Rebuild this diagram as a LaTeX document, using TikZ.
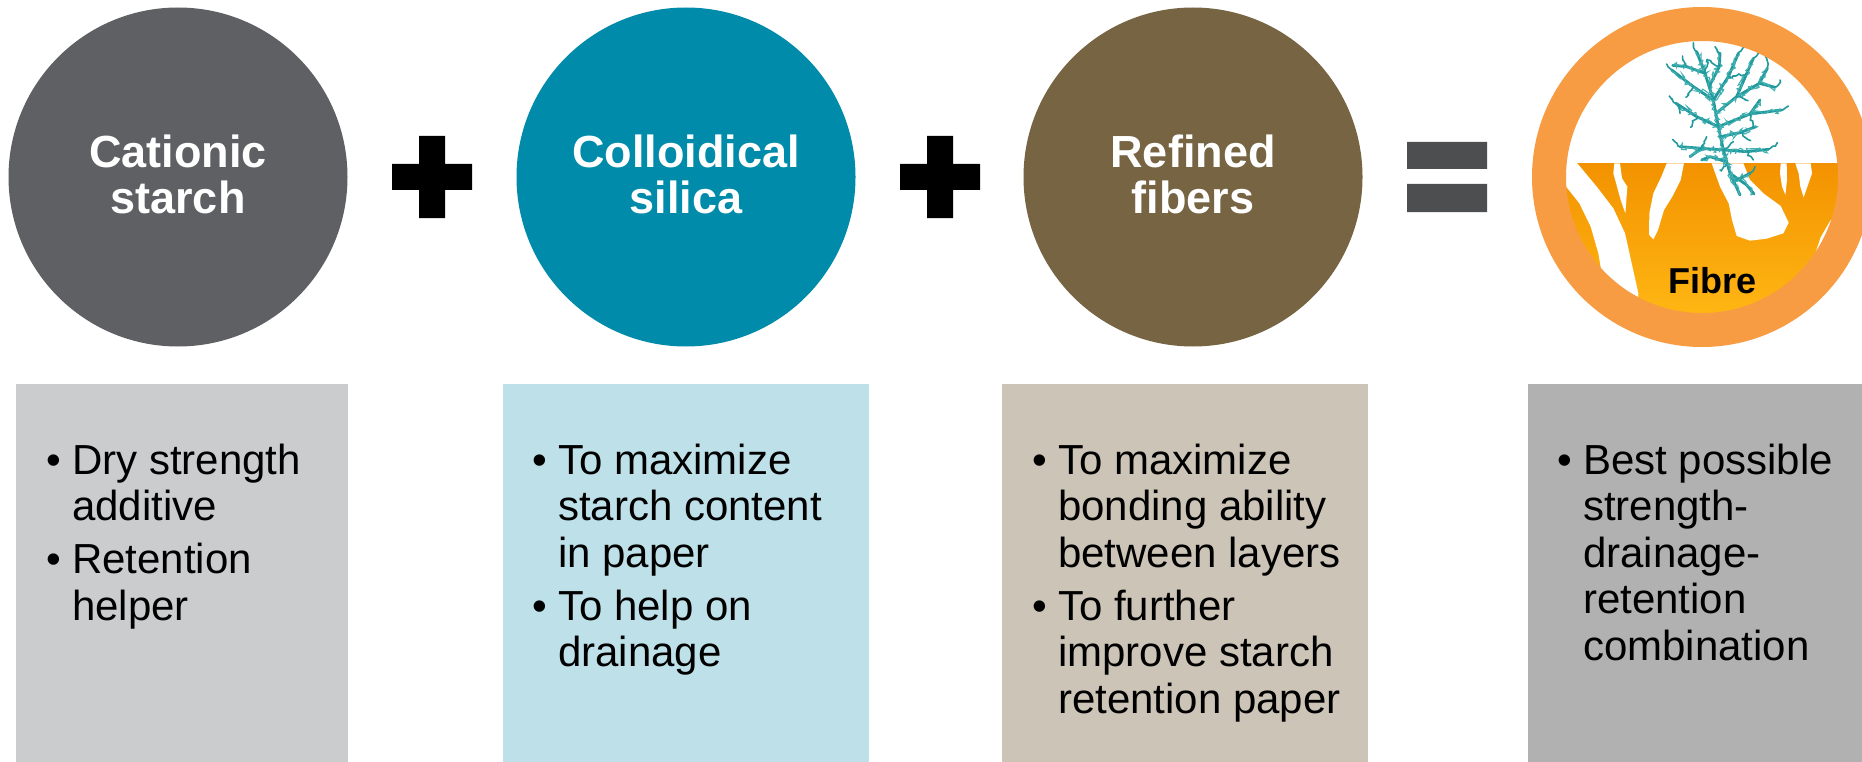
\documentclass[tikz,border=0pt]{standalone}
\usepackage{fontspec}
\setmainfont{Liberation Sans}
\usetikzlibrary{decorations.pathmorphing}

\definecolor{starchgray}{HTML}{5F6064}
\definecolor{silicablue}{HTML}{008BAA}
\definecolor{fiberbrown}{HTML}{766443}
\definecolor{ringorange}{HTML}{F79C43}
\definecolor{boxgray}{HTML}{CBCCCE}
\definecolor{boxblue}{HTML}{BEE0E8}
\definecolor{boxtan}{HTML}{CCC4B7}
\definecolor{boxdark}{HTML}{B1B1B1}
\definecolor{eqgray}{HTML}{4D4E50}
\definecolor{pulptop}{HTML}{F39200}
\definecolor{pulpbottom}{HTML}{FFB814}
\definecolor{fibril}{HTML}{22999C}
\definecolor{fibrillight}{HTML}{40B0B1}

\tikzset{
  agent/.style={circle, minimum size=339pt, inner sep=0pt, text=white,
    align=center, text depth=6pt, font=\fontsize{45}{46}\selectfont\bfseries},
  infobox/.style={rectangle, anchor=north west, minimum height=378pt, inner sep=0pt},
  btext/.style={anchor=base west, inner sep=0pt, font=\fontsize{42}{46}\selectfont},
  bdot/.style={anchor=base, inner sep=0pt, font=\fontsize{42}{46}\selectfont},
  fibrilmain/.style={draw=fibril, line width=2.8pt, line join=round, line cap=round},
  fibrilhair/.style={draw=fibrillight, line width=1.1pt, decorate,
    decoration={random steps, segment length=2pt, amplitude=3.4pt}},
  fibriltwig/.style={draw=fibril, line width=1.6pt, line cap=round, decorate,
    decoration={random steps, segment length=2.5pt, amplitude=1.6pt}},
}

\begin{document}
\begin{tikzpicture}[x=1pt, y=-1pt]
\pgfmathsetseed{11}
\clip (0,0) rectangle (1862,762);
\fill[white] (0,0) rectangle (1862,762);

% ---- the three ingredients ----
\node[agent, fill=starchgray] (cs) at (178,177) {Cationic\\starch};
\node[agent, fill=silicablue] (cl) at (686,177) {Colloidical\\silica};
\node[agent, fill=fiberbrown] (rf) at (1193,177) {Refined\\fibers};

% plus signs
\fill[black] (392,164) rectangle (472,190) (419,136) rectangle (445,218);
\fill[black] (900,164) rectangle (980,190) (927,136) rectangle (953,218);
% equals sign
\fill[eqgray] (1407,142) rectangle (1487,169) (1407,184) rectangle (1487,212);

% ---- result: fibre with fibrils ----
\begin{scope}[xshift=1520pt, x=0.33333pt, y=-0.33333pt]
  \begin{scope}
    \clip (546,531) circle[radius=410];
    \fill[white] (546,531) circle[radius=410];
    \shade[top color=pulptop, bottom color=pulpbottom] (100,490) rectangle (1000,960);
    % pores and cracks in the fibre wall
    \fill[white] (90,470) -- (172,490) -- (230,560) -- (280,625) -- (315,700)
      -- (335,790) -- (355,880) -- (345,980) -- (260,980) -- (250,850)
      -- (235,760) -- (212,680) -- (178,610) -- (140,562) -- (90,530) -- cycle;
    \fill[white] (283,490) -- (300,490) -- (306,535) -- (322,560) -- (316,640)
      -- (302,600) -- (291,560) -- (280,520) -- cycle;
    \fill[white] (440,490) -- (492,490) -- (482,540) -- (458,588) -- (432,630)
      -- (414,690) -- (400,718) -- (387,704) -- (388,640) -- (400,580) -- (424,530) -- cycle;
    \fill[white] (575,490) -- (670,490) -- (690,540) -- (730,580) -- (782,618)
      -- (806,668) -- (790,700) -- (740,716) -- (690,722) -- (650,708)
      -- (636,660) -- (626,610) -- (600,560) -- cycle;
    \fill[white] (782,490) -- (800,490) -- (801,540) -- (796,585) -- (786,560) -- (780,520) -- cycle;
    \fill[white] (826,490) -- (872,490) -- (876,520) -- (862,560) -- (851,592)
      -- (841,560) -- (836,520) -- cycle;
    \fill[white] (1000,640) -- (932,660) -- (902,712) -- (882,772) -- (866,840)
      -- (850,905) -- (1000,1000) -- cycle;
    % branching fibrils: stem and main branches
    \foreach \p in {
      {(660,585) -- (630,520) -- (610,450) -- (595,380) -- (580,300) -- (555,220) -- (530,155)},
      {(610,450) -- (545,445) -- (480,440)},
      {(610,450) -- (680,455) -- (745,448)},
      {(602,410) -- (660,398) -- (708,380)},
      {(595,380) -- (530,350) -- (468,310)},
      {(595,380) -- (690,342) -- (785,330)},
      {(588,340) -- (650,290) -- (718,250) -- (742,205)},
      {(580,300) -- (520,260) -- (455,210)},
      {(580,300) -- (625,230) -- (655,160)},
      {(568,258) -- (598,200) -- (600,160)},
      {(555,220) -- (500,200) -- (458,196)},
      {(650,290) -- (700,175)},
      {(718,250) -- (765,262)},
      {(630,520) -- (680,555) -- (702,582)},
      {(618,485) -- (570,470) -- (545,480)},
      {(640,545) -- (690,520)},
      {(545,445) -- (510,470)},
      {(690,342) -- (720,300)}} {
      \draw[fibrilmain] \p;
      \draw[fibrilhair] \p;
    }
    % side twigs
    \foreach \p in {
      {(480,440) -- (458,418)}, {(745,448) -- (772,428)}, {(468,310) -- (448,288)},
      {(785,330) -- (805,318)}, {(455,210) -- (440,192)}, {(655,160) -- (672,138)},
      {(742,205) -- (736,168)}, {(530,155) -- (520,128)}, {(520,260) -- (498,292)},
      {(530,350) -- (512,382)}, {(690,342) -- (702,382)}, {(660,398) -- (692,422)},
      {(625,230) -- (682,220)}, {(598,200) -- (560,180)}, {(700,175) -- (722,148)},
      {(555,220) -- (562,178)}, {(500,200) -- (488,168)}, {(650,290) -- (684,302)},
      {(545,445) -- (560,410)}, {(680,455) -- (700,480)}, {(610,450) -- (640,425)},
      {(470,310) -- (480,340)}, {(600,160) -- (585,140)}, {(765,262) -- (780,240)},
      {(620,490) -- (600,510)}, {(690,520) -- (705,500)}} {
      \draw[fibriltwig] \p;
    }
  \end{scope}
\end{scope}
\node[anchor=base, inner sep=0pt, font=\fontsize{36}{36}\selectfont\bfseries] (fibre) at (1712,293) {Fibre};
\draw[ringorange, line width=34pt] (1702,177) circle[radius=153];

% ---- description boxes ----
\node[infobox, fill=boxgray, minimum width=332pt] (d1) at (16,384) {};
\node[infobox, fill=boxblue, minimum width=366pt] (d2) at (503,384) {};
\node[infobox, fill=boxtan, minimum width=366pt] (d3) at (1002,384) {};
\node[infobox, fill=boxdark, minimum width=334pt] (d4) at (1528,384) {};

% box 1
\node[bdot] (d1b1) at (54,474) {\textbullet};
\node[btext] (d1l1) at (72,474) {Dry strength};
\node[btext] (d1l2) at (72,520.5) {additive};
\node[bdot] (d1b2) at (54,573.5) {\textbullet};
\node[btext] (d1l3) at (72,573.5) {Retention};
\node[btext] (d1l4) at (72,620) {helper};

% box 2
\node[bdot] (d2b1) at (540,474) {\textbullet};
\node[btext] (d2l1) at (558,474) {To maximize};
\node[btext] (d2l2) at (558,520.5) {starch content};
\node[btext] (d2l3) at (558,567) {in paper};
\node[bdot] (d2b2) at (540,620) {\textbullet};
\node[btext] (d2l4) at (558,620) {To help on};
\node[btext] (d2l5) at (558,666.5) {drainage};

% box 3
\node[bdot] (d3b1) at (1040,474) {\textbullet};
\node[btext] (d3l1) at (1058,474) {To maximize};
\node[btext] (d3l2) at (1058,520.5) {bonding ability};
\node[btext] (d3l3) at (1058,567) {between layers};
\node[bdot] (d3b2) at (1040,620) {\textbullet};
\node[btext] (d3l4) at (1058,620) {To further};
\node[btext] (d3l5) at (1058,666.5) {improve starch};
\node[btext] (d3l6) at (1058,713) {retention paper};

% box 4
\node[bdot] (d4b1) at (1565,474) {\textbullet};
\node[btext] (d4l1) at (1583,474) {Best possible};
\node[btext] (d4l2) at (1583,520.5) {strength-};
\node[btext] (d4l3) at (1583,567) {drainage-};
\node[btext] (d4l4) at (1583,613.5) {retention};
\node[btext] (d4l5) at (1583,660) {combination};
\end{tikzpicture}
\end{document}
